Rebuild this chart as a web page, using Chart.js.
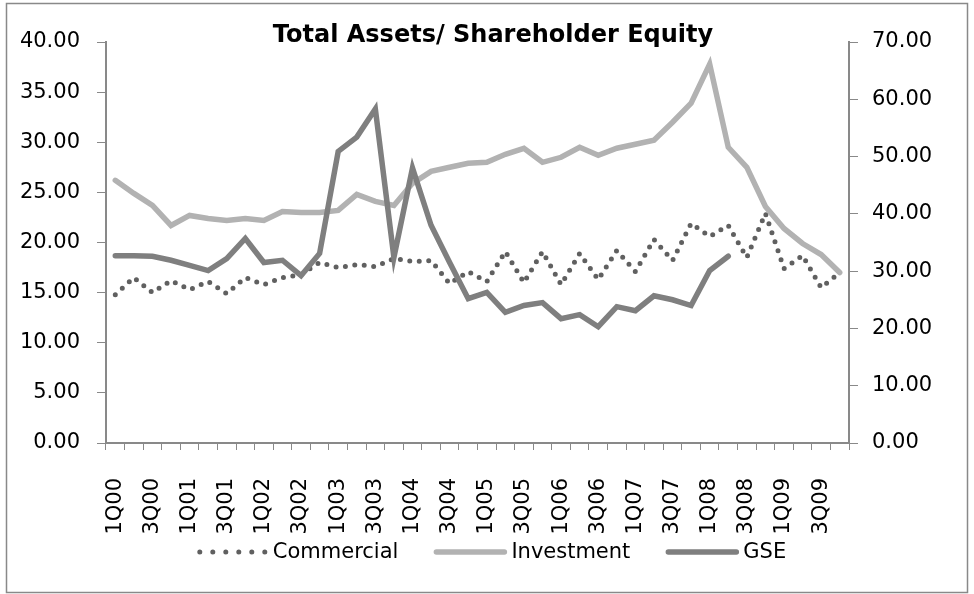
<!DOCTYPE html>
<html lang="en">
<head>
<meta charset="UTF-8">
<title>Total Assets/ Shareholder Equity</title>
<script src="https://cdn.jsdelivr.net/npm/chart.js"></script>
<style>
  html, body { margin: 0; padding: 0; background: #fff; }
  #wrap { width: 974px; height: 594px; }
</style>
</head>
<body>
<div id="wrap"><canvas id="c" width="974" height="594"></canvas></div>
<script>
// quarters 1Q00 .. 4Q09
const quarters = [
  '1Q00','2Q00','3Q00','4Q00','1Q01','2Q01','3Q01','4Q01',
  '1Q02','2Q02','3Q02','4Q02','1Q03','2Q03','3Q03','4Q03',
  '1Q04','2Q04','3Q04','4Q04','1Q05','2Q05','3Q05','4Q05',
  '1Q06','2Q06','3Q06','4Q06','1Q07','2Q07','3Q07','4Q07',
  '1Q08','2Q08','3Q08','4Q08','1Q09','2Q09','3Q09','4Q09'
];

// left axis
const commercial = [
  14.8, 16.5, 15.0, 16.2, 15.3, 16.1, 14.9, 16.5, 15.8, 16.5,
  16.8, 18.0, 17.5, 17.8, 17.6, 18.4, 18.1, 18.2, 15.9, 17.1,
  16.1, 19.1, 16.0, 19.1, 15.8, 18.9, 16.3, 19.2, 17.1, 20.3,
  18.2, 21.9, 20.6, 21.7, 18.5, 22.9, 17.4, 18.7, 15.5, 17.0
];
const investment = [
  26.2, 24.9, 23.7, 21.7, 22.7, 22.4, 22.2, 22.4, 22.2, 23.1,
  23.0, 23.0, 23.2, 24.8, 24.1, 23.7, 25.9, 27.1, 27.5, 27.9,
  28.0, 28.8, 29.4, 28.0, 28.5, 29.5, 28.7, 29.4, 29.8, 30.2,
  32.0, 33.9, 37.8, 29.5, 27.5, 23.6, 21.4, 19.9, 18.8, 17.0
];
// right axis
const gse = [
  32.7, 32.7, 32.6, 31.9, 31.0, 30.1, 32.2, 35.7, 31.5, 31.9,
  29.2, 33.1, 50.9, 53.4, 58.3, 32.4, 48.0, 38.0, 31.5, 25.2,
  26.3, 22.8, 24.0, 24.5, 21.7, 22.4, 20.3, 23.8, 23.1, 25.7,
  25.0, 24.0, 30.1, 32.6, null, null, null, null, null, null
];

const leftTicks = [0, 5, 10, 15, 20, 25, 30, 35, 40];
const rightTicks = [0, 10, 20, 30, 40, 50, 60, 70];

const FONT = "'DejaVu Sans', sans-serif";
const AXIS = '#898989';

const decor = {
  id: 'decor',
  beforeDraw(chart) {
    const ctx = chart.ctx;
    ctx.save();
    ctx.fillStyle = '#fff';
    ctx.fillRect(0, 0, chart.width, chart.height);
    ctx.restore();
  },
  afterDraw(chart) {
    const ctx = chart.ctx;
    ctx.save();
    // outer frame
    ctx.strokeStyle = AXIS;
    ctx.lineWidth = 1.5;
    ctx.strokeRect(6.5, 3.5, 961, 589);

    // title
    ctx.fillStyle = '#000';
    ctx.font = "bold 24px 'DejaVu Sans', sans-serif";
    ctx.textAlign = 'center';
    ctx.textBaseline = 'middle';
    ctx.fillText('Total Assets/ Shareholder Equity', 493, 36);

    // legend
    ctx.font = '21px ' + FONT;
    ctx.textAlign = 'left';
    const sample = 68, gap = 7, spacing = 38;
    const items = chart.data.datasets.map(ds => ({ ds, w: ctx.measureText(ds.label).width }));
    const total = items.reduce((a, it) => a + sample + gap + it.w, 0) + spacing * (items.length - 1);
    let x = 492 - total / 2;
    const y = 552;
    items.forEach(it => {
      const ds = it.ds;
      ctx.save();
      ctx.strokeStyle = ds.borderColor;
      ctx.lineWidth = ds.borderWidth;
      ctx.lineCap = ds.borderCapStyle || 'butt';
      ctx.setLineDash(ds.borderDash ? [0, 13] : []);
      ctx.beginPath();
      ctx.moveTo(x + (ds.borderDash ? 2 : 0), y);
      ctx.lineTo(x + sample, y);
      ctx.stroke();
      ctx.restore();
      x += sample + gap;
      ctx.fillStyle = '#000';
      ctx.fillText(ds.label, x, y + 1);
      x += it.w + spacing;
    });
    ctx.restore();
  }
};

new Chart(document.getElementById('c'), {
  type: 'line',
  data: {
    labels: quarters,
    datasets: [
      {
        label: 'Commercial',
        data: commercial,
        yAxisID: 'y',
        borderColor: '#606060',
        borderWidth: 5,
        borderDash: [0, 9.5],
        borderCapStyle: 'round',
        pointRadius: 0,
        tension: 0,
        order: 3
      },
      {
        label: 'Investment',
        data: investment,
        yAxisID: 'y',
        borderColor: '#b2b2b2',
        borderWidth: 5.5,
        borderCapStyle: 'round',
        pointRadius: 0,
        tension: 0,
        order: 2
      },
      {
        label: 'GSE',
        data: gse,
        yAxisID: 'y1',
        borderColor: '#7f7f7f',
        borderWidth: 5.5,
        borderCapStyle: 'round',
        pointRadius: 0,
        tension: 0,
        spanGaps: false,
        order: 1
      }
    ]
  },
  options: {
    responsive: false,
    animation: false,
    layout: { padding: { top: 42, left: 0, right: 0, bottom: 0 } },
    plugins: {
      legend: { display: false },
      title: { display: false },
      tooltip: { enabled: false }
    },
    scales: {
      x: {
        offset: true,
        grid: { display: true, drawOnChartArea: false, drawTicks: true, tickLength: 7, color: AXIS, offset: true },
        border: { display: true, color: AXIS, width: 2 },
        ticks: {
          autoSkip: false,
          maxRotation: 90,
          minRotation: 90,
          padding: 28,
          color: '#000',
          font: { family: FONT, size: 21 },
          callback: (v, i) => (i % 2 === 0 ? quarters[i] : '')
        },
        afterFit: s => { s.height = 151; }
      },
      y: {
        position: 'left',
        min: leftTicks[0],
        max: leftTicks[leftTicks.length - 1],
        afterBuildTicks: s => { s.ticks = leftTicks.map(v => ({ value: v })); },
        grid: { display: true, drawOnChartArea: false, drawTicks: true, tickLength: 9, color: AXIS },
        border: { display: true, color: AXIS, width: 2 },
        ticks: {
          padding: 17,
          color: '#000',
          font: { family: FONT, size: 21 },
          callback: v => v.toFixed(2)
        },
        afterFit: s => { s.width = 106; }
      },
      y1: {
        position: 'right',
        min: rightTicks[0],
        max: rightTicks[rightTicks.length - 1],
        afterBuildTicks: s => { s.ticks = rightTicks.map(v => ({ value: v })); },
        grid: { display: true, drawOnChartArea: false, drawTicks: true, tickLength: 9, color: AXIS },
        border: { display: true, color: AXIS, width: 2 },
        ticks: {
          padding: 14,
          color: '#000',
          font: { family: FONT, size: 21 },
          callback: v => v.toFixed(2)
        },
        afterFit: s => { s.width = 125; }
      }
    }
  },
  plugins: [decor]
});
</script>
</body>
</html>
